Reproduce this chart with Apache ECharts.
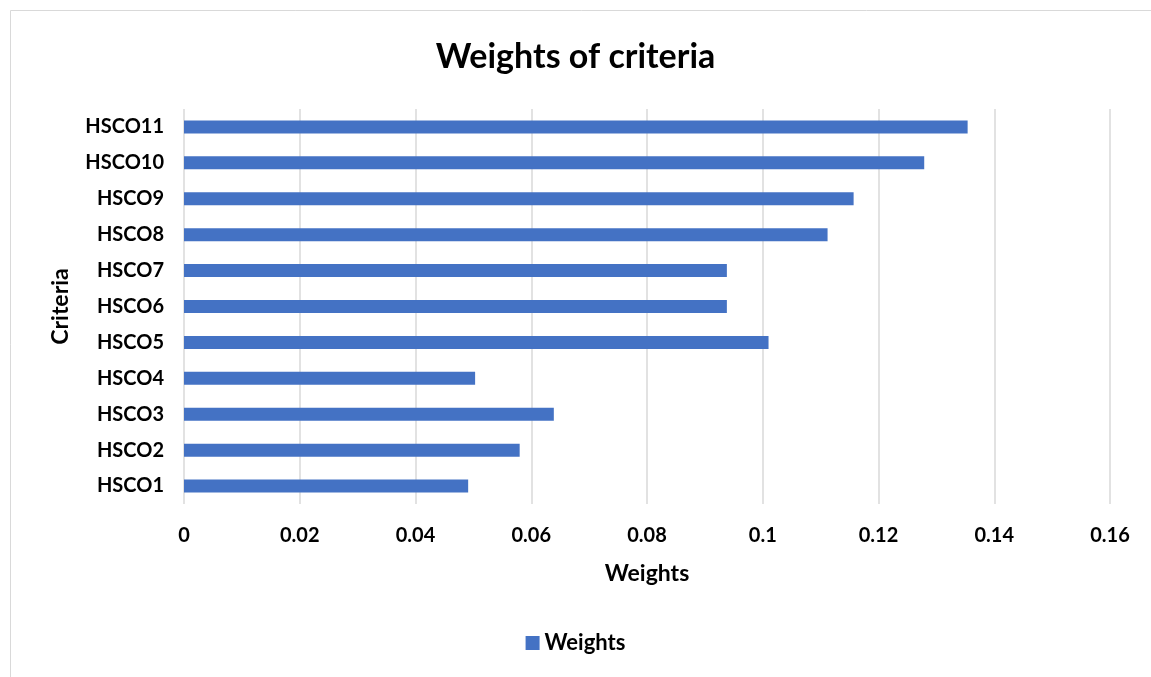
<!DOCTYPE html>
<html>
<head>
<meta charset="utf-8">
<script src="https://cdn.jsdelivr.net/npm/echarts@6/dist/echarts.min.js"></script>
<style>
  html, body { margin: 0; padding: 0; background: #fff; }
  #chart { width: 1151px; height: 677px; }
</style>
</head>
<body>
<div id="chart"></div>
<script>
// Criteria listed bottom-to-top on the category axis
const categories = ['HSCO1', 'HSCO2', 'HSCO3', 'HSCO4', 'HSCO5', 'HSCO6', 'HSCO7', 'HSCO8', 'HSCO9', 'HSCO10', 'HSCO11'];
const weights = [0.0491, 0.0580, 0.0639, 0.0503, 0.1010, 0.0938, 0.0938, 0.1112, 0.1157, 0.1279, 0.1354];
const seriesName = 'Weights';

const FONT = 'Lato, "Open Sans", sans-serif';
const chart = echarts.init(document.getElementById('chart'));

chart.setOption({
  animation: false,
  backgroundColor: '#fff',
  graphic: [{
    type: 'rect',
    shape: { x: 10.5, y: 10.5, width: 1150, height: 700 },
    style: { fill: 'none', stroke: '#d9d9d9', lineWidth: 1 },
    silent: true
  }],
  title: {
    text: 'Weights of criteria',
    left: 'center',
    top: 35,
    textStyle: { fontFamily: FONT, fontSize: 34, fontWeight: 'bold', color: '#000' }
  },
  legend: {
    bottom: 18,
    left: 'center',
    itemWidth: 14,
    itemHeight: 14,
    itemGap: 6,
    icon: 'rect',
    textStyle: { fontFamily: FONT, fontSize: 22, fontWeight: 'bold', color: '#000' },
    data: [seriesName]
  },
  grid: { left: 184, right: 41, top: 109, bottom: 173 },
  xAxis: {
    type: 'value',
    min: 0,
    max: 0.16,
    interval: 0.02,
    name: 'Weights',
    nameLocation: 'middle',
    nameGap: 58,
    nameTextStyle: { fontFamily: FONT, fontSize: 23, fontWeight: 'bold', color: '#000' },
    axisLine: { show: false },
    axisTick: { show: false },
    axisLabel: { fontFamily: FONT, fontSize: 20, fontWeight: 'bold', color: '#000', margin: 22 },
    splitLine: { show: true, lineStyle: { color: '#d9d9d9', width: 1.5 } }
  },
  yAxis: {
    type: 'category',
    data: categories,
    name: 'Criteria',
    nameLocation: 'middle',
    nameGap: 112,
    nameRotate: 90,
    nameTextStyle: { fontFamily: FONT, fontSize: 23, fontWeight: 'bold', color: '#000' },
    axisLine: { show: false },
    axisTick: { show: false },
    axisLabel: { fontFamily: FONT, fontSize: 20, fontWeight: 'bold', color: '#000', margin: 20 }
  },
  series: [{
    name: seriesName,
    type: 'bar',
    data: weights,
    barWidth: 13,
    itemStyle: { color: '#4472c4' }
  }]
});
</script>
</body>
</html>
